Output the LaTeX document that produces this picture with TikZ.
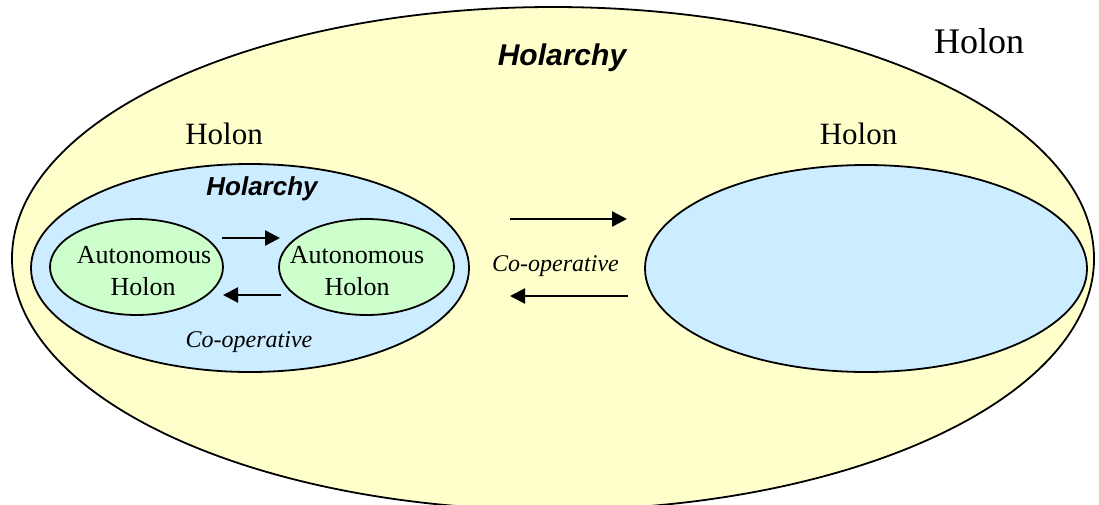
\documentclass[tikz,border=0pt]{standalone}
\usepackage{fontspec}
\setmainfont{Liberation Serif}
\newfontfamily\arialfont{Liberation Sans}
\usetikzlibrary{shapes.geometric,arrows.meta}
\definecolor{outerfill}{HTML}{FFFFCC}
\definecolor{holonfill}{HTML}{CCECFF}
\definecolor{autofill}{HTML}{CCFFCC}
\tikzset{
  shell/.style={ellipse, draw=black, line width=1.8pt, inner sep=0pt},
  flow/.style={line width=2.4pt, -{Triangle[length=15pt,width=15pt]}},
  title/.style={font=\arialfont\bfseries\itshape, anchor=base, inner sep=0pt},
  label/.style={anchor=base, inner sep=0pt},
}
\begin{document}
\begin{tikzpicture}[x=1pt,y=-1pt]
\useasboundingbox (0,0) rectangle (1099,504);
\fill[white] (0,0) rectangle (1099,504);

% outer holon
\node[shell, fill=outerfill, minimum width=1082pt, minimum height=503pt] (outer) at (553,258.5) {};
\node[label, font=\fontsize{36}{40}\selectfont] (outerholon) at (979,53) {Holon};
\node[title, font=\arialfont\bfseries\itshape\fontsize{30}{34}\selectfont] (outertitle) at (562,65) {Holarchy};

% left holon containing a holarchy
\node[shell, fill=holonfill, minimum width=438pt, minimum height=208pt] (left) at (250,268) {};
\node[label, font=\fontsize{31}{35}\selectfont] (leftholon) at (224,144) {Holon};
\node[title, font=\arialfont\bfseries\itshape\fontsize{26}{30}\selectfont] (lefttitle) at (262,195) {Holarchy};

% autonomous holons
\node[shell, fill=autofill, minimum width=173pt, minimum height=96pt] (autoA) at (136.5,267) {};
\node[shell, fill=autofill, minimum width=175pt, minimum height=96pt] (autoB) at (366.5,267) {};
\node[label, font=\fontsize{26}{30}\selectfont] (autoAtop) at (144,263) {Autonomous};
\node[label, font=\fontsize{26}{30}\selectfont] (autoAbot) at (143,295) {Holon};
\node[label, font=\fontsize{26}{30}\selectfont] (autoBtop) at (357,263) {Autonomous};
\node[label, font=\fontsize{26}{30}\selectfont] (autoBbot) at (357,295) {Holon};
\node[label, font=\itshape\fontsize{24}{28}\selectfont] (innercoop) at (249,347) {Co-operative};

% right holon
\node[shell, fill=holonfill, minimum width=442pt, minimum height=207pt] (right) at (866,268.5) {};
\node[label, font=\fontsize{31}{35}\selectfont] (rightholon) at (858.5,144) {Holon};
\node[label, font=\itshape\fontsize{24}{28}\selectfont] (outercoop) at (555.5,271) {Co-operative};

% arrow end points
\coordinate (iAs) at (222,238); \coordinate (iAe) at (280,238);
\coordinate (iBs) at (281,295); \coordinate (iBe) at (223,295);
\coordinate (oAs) at (510,219); \coordinate (oAe) at (627,219);
\coordinate (oBs) at (628,296); \coordinate (oBe) at (510,296);

\draw[flow] (iAs) -- (iAe);
\draw[flow] (iBs) -- (iBe);
\draw[flow] (oAs) -- (oAe);
\draw[flow] (oBs) -- (oBe);
\end{tikzpicture}
\end{document}
